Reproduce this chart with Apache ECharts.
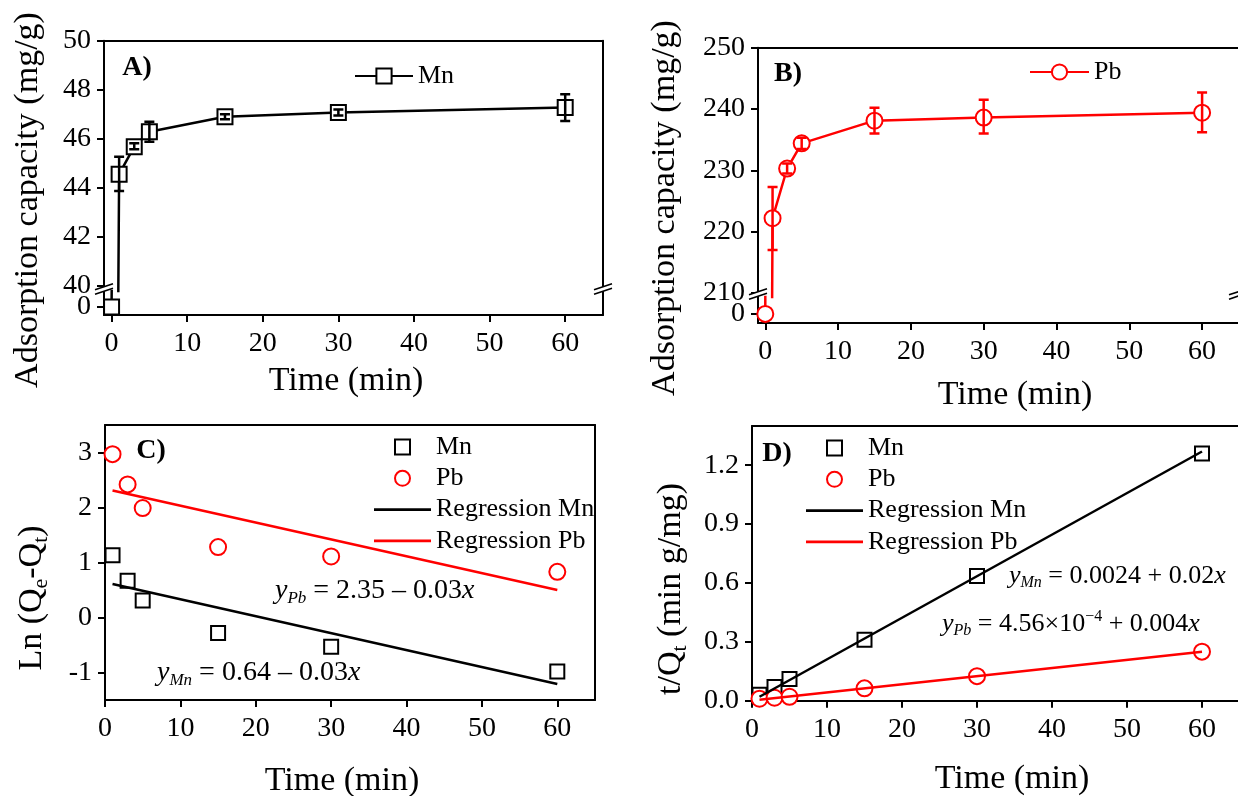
<!DOCTYPE html>
<html><head><meta charset="utf-8">
<script src="https://cdn.jsdelivr.net/npm/echarts@6/dist/echarts.min.js"></script>
<style>html,body{margin:0;padding:0;background:#fff}#c{width:1238px;height:796px}</style>
</head><body><div id="c"></div>
<script>
const FONT = "'Liberation Serif','Times New Roman',serif";

// ---------- Data: panels A and B (adsorption capacity vs time) ----------
const timeAB = [0, 1, 3, 5, 15, 30, 60];
const capMn = [0, 44.56, 45.68, 46.29, 46.90, 47.07, 47.28];
const errMnLow = [null, 43.88, 45.58, 45.88, 46.80, 46.95, 46.73];
const errMnHigh = [null, 45.27, 45.82, 46.70, 47.00, 47.20, 47.82];
const capPb = [0, 222.2, 230.3, 234.4, 238.1, 238.6, 239.4];
const errPbLow = [null, 217.0, 229.5, 233.5, 236.0, 236.0, 236.2];
const errPbHigh = [null, 227.3, 231.1, 235.3, 240.2, 241.5, 242.7];

// ---------- Data: panels C and D (kinetic fits) ----------
const timeCD = [1, 3, 5, 15, 30, 60];
const lnMn = [1.13, 0.67, 0.31, -0.28, -0.53, -0.98];
const lnPb = [2.97, 2.42, 1.99, 1.28, 1.11, 0.83];
const tqMn = [0.03, 0.07, 0.11, 0.31, 0.635, 1.26];
const tqPb = [0.01, 0.015, 0.02, 0.063, 0.125, 0.25];
const regTime = [1, 60];
const regLnMn = [0.61, -1.21];
const regLnPb = [2.31, 0.50];
const regTqMn = [0.02, 1.27];
const regTqPb = [0.005, 0.25];

// ---------- Tick labels ----------
const xTicks = [0, 10, 20, 30, 40, 50, 60];
const yTicksA = [40, 42, 44, 46, 48, 50];
const yTicksB = [210, 220, 230, 240, 250];
const yTicksC = [-1, 0, 1, 2, 3];
const yTicksD = [0, 0.3, 0.6, 0.9, 1.2];
const zeroTick = [0];

const zip = (xs, ys) => xs.map((x, i) => [x, ys[i]]);
const zipErr = (xs, lo, hi) => xs.map((x, i) => [x, lo[i], hi[i]]).filter(r => r[1] != null);

const AL = {show: true, onZero: false, lineStyle: {color: '#000', width: 2}};
const TICK = (vals) => ({show: true, inside: false, length: 7, lineStyle: {color: '#000', width: 2}, customValues: vals});
const LAB = (vals, margin, fmt) => {
  const o = {show: true, margin: margin, color: '#000', fontSize: 28, fontFamily: FONT, customValues: vals};
  if (fmt) o.formatter = fmt;
  return o;
};
function xBottom(g, min, max) {
  return {type: 'value', gridIndex: g, min, max, position: 'bottom', axisLine: AL,
    axisTick: TICK(xTicks), axisLabel: LAB(xTicks, 15), splitLine: {show: false}};
}
function xTop(g, min, max) {
  return {type: 'value', gridIndex: g, min, max, position: 'top', axisLine: AL,
    axisTick: {show: false}, axisLabel: {show: false}, splitLine: {show: false}};
}
function yLeft(g, min, max, ticks, fmt) {
  return {type: 'value', gridIndex: g, min, max, position: 'left', axisLine: AL,
    axisTick: TICK(ticks), axisLabel: LAB(ticks, 13, fmt), splitLine: {show: false}};
}
function yRight(g) {
  return {type: 'value', gridIndex: g, position: 'right', axisLine: AL,
    axisTick: {show: false}, axisLabel: {show: false}, splitLine: {show: false}};
}
function errRender(color) {
  return function (params, api) {
    const x = api.value(0), lo = api.value(1), hi = api.value(2);
    const a = api.coord([x, lo]), b = api.coord([x, hi]);
    const w = 5;
    const st = {stroke: color, lineWidth: 2.5};
    return {type: 'group', children: [
      {type: 'line', shape: {x1: a[0], y1: a[1], x2: b[0], y2: b[1]}, style: st},
      {type: 'line', shape: {x1: a[0] - w, y1: a[1], x2: a[0] + w, y2: a[1]}, style: st},
      {type: 'line', shape: {x1: b[0] - w, y1: b[1], x2: b[0] + w, y2: b[1]}, style: st}
    ]};
  };
}
function brk(x, cy) {
  const hw = 9, hr = 3, s = 2.2;
  return {type: 'group', z: 100, children: [
    {type: 'polygon', z: 100, shape: {points: [[x - hw, cy - s + hr], [x + hw, cy - s - hr], [x + hw, cy + s - hr], [x - hw, cy + s + hr]]}, style: {fill: '#fff'}},
    {type: 'line', z: 101, shape: {x1: x - hw, y1: cy - s + hr, x2: x + hw, y2: cy - s - hr}, style: {stroke: '#000', lineWidth: 1.6}},
    {type: 'line', z: 101, shape: {x1: x - hw, y1: cy + s + hr, x2: x + hw, y2: cy + s - hr}, style: {stroke: '#000', lineWidth: 1.6}}
  ]};
}
function txt(x, y, text, size, opts) {
  opts = opts || {};
  const style = {text: text, x: 0, y: 0, fill: '#000', fontSize: size, fontFamily: FONT,
    fontWeight: opts.bold ? 'bold' : 'normal',
    align: opts.align || 'center', verticalAlign: 'middle',
    textAlign: opts.align || 'center', textVerticalAlign: 'middle'};
  if (opts.rich) style.rich = opts.rich;
  return {type: 'text', x: x, y: y, rotation: opts.rot || 0, z: 50, style: style};
}
function eqRich(size) {
  const sub = Math.round(size * 0.6);
  return {
    i: {fontStyle: 'italic', fontSize: size, fontFamily: FONT, lineHeight: size + 4, color: '#000'},
    n: {fontSize: size, fontFamily: FONT, lineHeight: size + 4, color: '#000'},
    s: {fontStyle: 'italic', fontSize: sub, fontFamily: FONT, lineHeight: sub, verticalAlign: 'bottom', color: '#000'},
    p: {fontSize: sub, fontFamily: FONT, lineHeight: sub, verticalAlign: 'top', color: '#000'}
  };
}
const titleRich = {
  n: {fontSize: 34, fontFamily: FONT, lineHeight: 40, color: '#000'},
  s: {fontSize: 22, fontFamily: FONT, lineHeight: 22, verticalAlign: 'bottom', color: '#000'}
};
const strip = n => n.slice(2);
const LT = {fontSize: 26, fontFamily: FONT, color: '#000', lineHeight: 26};

const option = {
  animation: false,
  backgroundColor: '#fff',
  grid: [
    {left: 104, top: 40.7, width: 499, height: 250.3, outerBoundsMode: 'none'},
    {left: 104, top: 291, width: 499, height: 24, outerBoundsMode: 'none'},
    {left: 758, top: 47.7, width: 480.5, height: 249.3, outerBoundsMode: 'none'},
    {left: 758, top: 297, width: 480.5, height: 26, outerBoundsMode: 'none'},
    {left: 105, top: 425, width: 490, height: 275, outerBoundsMode: 'none'},
    {left: 752, top: 426, width: 487.5, height: 274.7, outerBoundsMode: 'none'}
  ],
  xAxis: [
    xTop(0, -1, 65), xBottom(1, -1, 65),
    xTop(2, -1, 65), xBottom(3, -1, 65),
    xBottom(4, 0, 65), xTop(4, 0, 65),
    xBottom(5, 0, 65), xTop(5, 0, 65)
  ],
  yAxis: [
    yLeft(0, 39.8, 50, yTicksA), yRight(0),
    yLeft(1, -0.4, 0.8, zeroTick), yRight(1),
    yLeft(2, 209.35, 250, yTicksB), yRight(2),
    yLeft(3, -0.35, 0.65, zeroTick), yRight(3),
    yLeft(4, -1.5, 3.5, yTicksC), yRight(4),
    yLeft(5, 0, 1.4, yTicksD, v => Number(v).toFixed(1)), yRight(5)
  ],
  legend: [
    {left: 354, top: 63, padding: 0, itemWidth: 58, itemHeight: 19, selectedMode: false,
      data: ['A_Mn'], formatter: strip, textStyle: LT},
    {left: 1029, top: 59, padding: 0, itemWidth: 59, itemHeight: 19, selectedMode: false,
      data: ['B_Pb'], formatter: strip, textStyle: LT},
    {left: 374, top: 434, padding: 0, orient: 'vertical', itemGap: 5.3, itemWidth: 57, itemHeight: 15,
      selectedMode: false, formatter: strip, textStyle: LT,
      data: [
        {name: 'C_Mn', icon: 'path://M0,0L10,0L10,10L0,10Z', itemStyle: {color: '#fff', borderColor: '#000', borderWidth: 2}},
        {name: 'C_Pb', icon: 'circle', itemStyle: {color: '#fff', borderColor: '#ff0000', borderWidth: 2}},
        {name: 'C_Regression Mn', icon: 'path://M0,0L60,0L60,3L0,3Z', itemStyle: {color: '#000', borderWidth: 0}},
        {name: 'C_Regression Pb', icon: 'path://M0,0L60,0L60,3L0,3Z', itemStyle: {color: '#ff0000', borderWidth: 0}}
      ]},
    {left: 806, top: 435, padding: 0, orient: 'vertical', itemGap: 5.3, itemWidth: 57, itemHeight: 15,
      selectedMode: false, formatter: strip, textStyle: LT,
      data: [
        {name: 'D_Mn', icon: 'path://M0,0L10,0L10,10L0,10Z', itemStyle: {color: '#fff', borderColor: '#000', borderWidth: 2}},
        {name: 'D_Pb', icon: 'circle', itemStyle: {color: '#fff', borderColor: '#ff0000', borderWidth: 2}},
        {name: 'D_Regression Mn', icon: 'path://M0,0L60,0L60,3L0,3Z', itemStyle: {color: '#000', borderWidth: 0}},
        {name: 'D_Regression Pb', icon: 'path://M0,0L60,0L60,3L0,3Z', itemStyle: {color: '#ff0000', borderWidth: 0}}
      ]}
  ],
  series: [
    // Panel A
    {type: 'line', name: 'A_Mn', xAxisIndex: 0, yAxisIndex: 0, data: zip(timeAB, capMn), clip: true,
      symbol: 'rect', symbolSize: 15, lineStyle: {color: '#000', width: 2.5},
      itemStyle: {color: '#fff', borderColor: '#000', borderWidth: 2, opacity: 1}, z: 2},
    {type: 'line', name: 'A_Mn', xAxisIndex: 1, yAxisIndex: 2, data: zip(timeAB, capMn), clip: true,
      symbol: 'rect', symbolSize: 15, lineStyle: {color: '#000', width: 2.5},
      itemStyle: {color: '#fff', borderColor: '#000', borderWidth: 2, opacity: 1}, z: 2},
    {type: 'custom', xAxisIndex: 0, yAxisIndex: 0, data: zipErr(timeAB, errMnLow, errMnHigh),
      encode: {x: 0, y: [1, 2]}, renderItem: errRender('#000'), clip: true, z: 5},
    // Panel B
    {type: 'line', name: 'B_Pb', xAxisIndex: 2, yAxisIndex: 4, data: zip(timeAB, capPb), clip: true,
      symbol: 'circle', symbolSize: 16, lineStyle: {color: '#ff0000', width: 2.5},
      itemStyle: {color: '#fff', borderColor: '#ff0000', borderWidth: 2, opacity: 1}, z: 2},
    {type: 'line', name: 'B_Pb', xAxisIndex: 3, yAxisIndex: 6, data: zip(timeAB, capPb), clip: true,
      symbol: 'circle', symbolSize: 16, lineStyle: {color: '#ff0000', width: 2.5},
      itemStyle: {color: '#fff', borderColor: '#ff0000', borderWidth: 2, opacity: 1}, z: 2},
    {type: 'custom', xAxisIndex: 2, yAxisIndex: 4, data: zipErr(timeAB, errPbLow, errPbHigh),
      encode: {x: 0, y: [1, 2]}, renderItem: errRender('#ff0000'), clip: true, z: 5},
    // Panel C
    {type: 'scatter', name: 'C_Mn', xAxisIndex: 4, yAxisIndex: 8, data: zip(timeCD, lnMn),
      symbol: 'rect', symbolSize: 14, itemStyle: {color: '#fff', borderColor: '#000', borderWidth: 2, opacity: 1}, z: 2},
    {type: 'scatter', name: 'C_Pb', xAxisIndex: 4, yAxisIndex: 8, data: zip(timeCD, lnPb),
      symbol: 'circle', symbolSize: 16, itemStyle: {color: '#fff', borderColor: '#ff0000', borderWidth: 2, opacity: 1}, z: 2},
    {type: 'line', name: 'C_Regression Mn', xAxisIndex: 4, yAxisIndex: 8, data: zip(regTime, regLnMn),
      symbol: 'none', lineStyle: {color: '#000', width: 2.5}, itemStyle: {color: '#000'}, z: 3},
    {type: 'line', name: 'C_Regression Pb', xAxisIndex: 4, yAxisIndex: 8, data: zip(regTime, regLnPb),
      symbol: 'none', lineStyle: {color: '#ff0000', width: 2.5}, itemStyle: {color: '#ff0000'}, z: 3},
    // Panel D
    {type: 'scatter', name: 'D_Mn', xAxisIndex: 6, yAxisIndex: 10, data: zip(timeCD, tqMn),
      symbol: 'rect', symbolSize: 14, itemStyle: {color: '#fff', borderColor: '#000', borderWidth: 2, opacity: 1}, z: 2},
    {type: 'scatter', name: 'D_Pb', xAxisIndex: 6, yAxisIndex: 10, data: zip(timeCD, tqPb),
      symbol: 'circle', symbolSize: 16, itemStyle: {color: '#fff', borderColor: '#ff0000', borderWidth: 2, opacity: 1}, z: 2},
    {type: 'line', name: 'D_Regression Mn', xAxisIndex: 6, yAxisIndex: 10, data: zip(regTime, regTqMn),
      symbol: 'none', lineStyle: {color: '#000', width: 2.5}, itemStyle: {color: '#000'}, z: 3},
    {type: 'line', name: 'D_Regression Pb', xAxisIndex: 6, yAxisIndex: 10, data: zip(regTime, regTqPb),
      symbol: 'none', lineStyle: {color: '#ff0000', width: 2.5}, itemStyle: {color: '#ff0000'}, z: 3}
  ],
  graphic: [
    brk(104, 289), brk(603, 289), brk(758, 294), brk(1238, 294),
    txt(137, 68, 'A)', 28, {bold: true}),
    txt(788, 74, 'B)', 28, {bold: true}),
    txt(151, 451, 'C)', 28, {bold: true}),
    txt(777, 454, 'D)', 28, {bold: true}),
    txt(28, 200, 'Adsorption capacity (mg/g)', 34, {rot: Math.PI / 2}),
    txt(665, 208, 'Adsorption capacity (mg/g)', 34, {rot: Math.PI / 2}),
    txt(32, 598, '{n|Ln (Q}{s|e}{n|-Q}{s|t}{n|)}', 34, {rot: Math.PI / 2, rich: titleRich}),
    txt(671, 589, '{n|t/Q}{s|t}{n| (min g/mg)}', 34, {rot: Math.PI / 2, rich: titleRich}),
    txt(346, 381, 'Time (min)', 34),
    txt(1015, 395, 'Time (min)', 34),
    txt(342, 781, 'Time (min)', 34),
    txt(1012, 779, 'Time (min)', 34),
    txt(275, 591, '{i|y}{s|Pb}{n| = 2.35 – 0.03}{i|x}', 28, {align: 'left', rich: eqRich(28)}),
    txt(157, 673, '{i|y}{s|Mn}{n| = 0.64 – 0.03}{i|x}', 28, {align: 'left', rich: eqRich(28)}),
    txt(1009, 576, '{i|y}{s|Mn}{n| = 0.0024 + 0.02}{i|x}', 26, {align: 'left', rich: eqRich(26)}),
    txt(942, 624, '{i|y}{s|Pb}{n| = 4.56×10}{p|−4}{n| + 0.004}{i|x}', 26, {align: 'left', rich: eqRich(26)})
  ]
};
const chart = echarts.init(document.getElementById('c'));
chart.setOption(option);
</script>
</body></html>
